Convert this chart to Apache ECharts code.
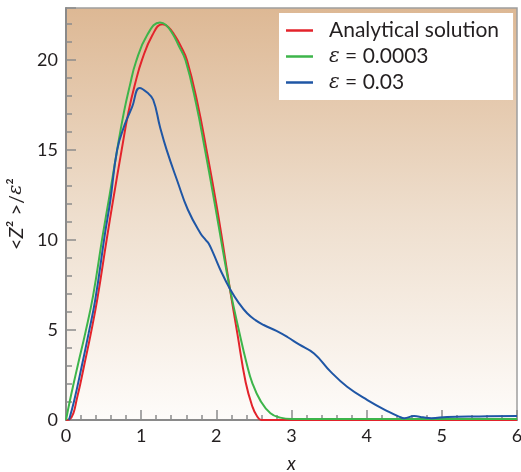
<!DOCTYPE html>
<html>
<head>
<meta charset="utf-8">
<script src="https://cdn.jsdelivr.net/npm/echarts@6/dist/echarts.min.js"></script>
<style>
  html, body { margin: 0; padding: 0; background: #fff; }
  #chart { width: 521px; height: 472px; }
</style>
</head>
<body>
<div id="chart"></div>
<script>
// === data ===
const xTicks = [0, 1, 2, 3, 4, 5, 6]
const yTicks = [0, 5, 10, 15, 20]

const analyticalData = [
  [0, 0], [0.05, 0.05], [0.1, 0.4], [0.14, 1.1], [0.19, 2.0], [0.24, 3.0], [0.33, 4.8],
  [0.42, 6.8], [0.54, 10], [0.63, 12.3], [0.74, 15], [0.83, 17.1], [0.92, 18.7], [1.01, 20],
  [1.15, 21.4], [1.28, 22], [1.36, 21.85], [1.45, 21.35], [1.53, 20.75], [1.61, 20],
  [1.75, 17.6], [1.87, 15], [2.0, 12], [2.09, 9.7], [2.18, 7.3], [2.28, 4.8], [2.39, 2.1],
  [2.48, 0.74], [2.54, 0.22], [2.6, 0], [3, 0], [6, 0],
]
const eps0003Data = [
  [0, 0], [0.053, 1.1], [0.1, 2.0], [0.16, 3.1], [0.26, 4.9], [0.36, 6.9], [0.49, 10.3],
  [0.58, 12.5], [0.68, 15], [0.77, 17.1], [0.85, 18.6], [0.93, 19.9], [1.08, 21.4], [1.25, 22.1],
  [1.33, 21.95], [1.42, 21.45], [1.5, 20.8], [1.59, 20], [1.73, 17.6], [1.85, 15], [1.98, 12],
  [2.08, 9.6], [2.18, 7.3], [2.31, 4.8], [2.4, 3.2], [2.48, 2.04], [2.59, 1.05], [2.72, 0.38],
  [2.85, 0.13], [3.0, 0.05], [4, 0.05], [6, 0.05],
]
const eps03Data = [
  [0.04, 0], [0.11, 1.1], [0.21, 3.0], [0.3, 4.8], [0.39, 6.7], [0.52, 10.4], [0.59, 12.2],
  [0.68, 15], [0.78, 16.4], [0.88, 17.4], [0.98, 18.46], [1.08, 18.2], [1.16, 17.8], [1.25, 16.3],
  [1.34, 15], [1.48, 13.3], [1.62, 11.7], [1.79, 10.37], [1.86, 10.0], [1.9, 9.8], [1.96, 9.26],
  [2.07, 8.2], [2.18, 7.3], [2.3, 6.5], [2.41, 5.93], [2.52, 5.55], [2.63, 5.28], [2.8, 4.95],
  [2.95, 4.6], [3.1, 4.2], [3.3, 3.7], [3.52, 2.69], [3.74, 1.85], [4.01, 1.11], [4.29, 0.46],
  [4.43, 0.19], [4.5, 0.1], [4.63, 0.22], [4.75, 0.15], [4.86, 0.1], [5.07, 0.17], [5.5, 0.2],
  [6, 0.22],
]

const seriesNames = ['Analytical solution', 'ε = 0.0003', 'ε = 0.03']
const seriesColors = ['#e3232b', '#3db54a', '#1f56a5']

const font = 'Lato, "Noto Sans", sans-serif'
const textColor = '#231f20'
const tickColor = '#8c8c8c'

const chart = echarts.init(document.getElementById('chart'))

const bg = new echarts.graphic.LinearGradient(0, 0, 0, 1, [
  { offset: 0, color: '#ddb894' },
  { offset: 0.5, color: '#eedecd' },
  { offset: 1, color: '#fefcfa' },
])

function makeLine(name, data, color) {
  return {
    name,
    type: 'line',
    data,
    symbol: 'none',
    smooth: 0.45,
    lineStyle: { width: 2, color },
    itemStyle: { color },
  }
}

const option = {
  backgroundColor: '#fff',
  animation: false,
  grid: {
    left: 66, right: 4, top: 8, bottom: 52,
    containLabel: false,
    outerBoundsMode: 'none',
    show: true,
    backgroundColor: bg,
    borderColor: '#9e9e9e',
    borderWidth: 1.5,
  },
  legend: {
    data: seriesNames,
    orient: 'vertical',
    left: 279,
    top: 13,
    backgroundColor: '#fff',
    padding: [7, 14, 7, 7],
    icon: 'rect',
    itemWidth: 27,
    itemHeight: 2.5,
    itemGap: 5,
    textStyle: {
      fontFamily: font,
      fontSize: 21,
      lineHeight: 20,
      color: textColor,
      padding: [0, 0, 0, 11],
      rich: {
        i: { fontFamily: '"DejaVu Serif", serif', fontStyle: 'italic', fontSize: 20, color: textColor },
      },
    },
    formatter: (name) => name.startsWith('ε') ? '{i|ε}' + name.slice(1) : name,
  },
  xAxis: {
    type: 'value',
    min: xTicks[0],
    max: xTicks[xTicks.length - 1],
    interval: 1,
    name: 'x',
    nameLocation: 'middle',
    nameGap: 34,
    nameTextStyle: { fontFamily: font, fontSize: 19, fontStyle: 'italic', color: textColor },
    axisLine: { show: true, lineStyle: { color: '#8a8a8a', width: 2 } },
    axisTick: { show: true, inside: true, length: 10, lineStyle: { color: tickColor, width: 1.5 } },
    minorTick: { show: true, splitNumber: 5, length: 5, lineStyle: { color: tickColor, width: 1.5 } },
    splitLine: { show: false },
    axisLabel: { fontFamily: font, fontSize: 18, color: textColor, margin: 7 },
  },
  yAxis: {
    type: 'value',
    min: 0,
    max: 22.9,
    interval: 5,
    name: '{a|<}{i|Z}{a|² >/}{e|ε}{a|²}',
    nameLocation: 'middle',
    nameGap: 27,
    nameTextStyle: {
      rich: {
        a: { fontFamily: font, fontSize: 20, color: textColor },
        i: { fontFamily: font, fontSize: 20, fontStyle: 'italic', color: textColor },
        e: { fontFamily: '"DejaVu Serif", serif', fontSize: 19, fontStyle: 'italic', color: textColor },
      },
    },
    axisLine: { show: true, lineStyle: { color: '#8a8a8a', width: 2 } },
    axisTick: { show: true, inside: true, length: 10, lineStyle: { color: tickColor, width: 1.5 } },
    minorTick: { show: true, splitNumber: 5, length: 6, lineStyle: { color: tickColor, width: 1.5 } },
    splitLine: { show: false },
    axisLabel: {
      fontFamily: font, fontSize: 18, color: textColor, margin: 8,
      formatter: (v) => yTicks.includes(v) ? String(v) : '',
    },
  },
  series: [
    makeLine(seriesNames[0], analyticalData, seriesColors[0]),
    makeLine(seriesNames[1], eps0003Data, seriesColors[1]),
    makeLine(seriesNames[2], eps03Data, seriesColors[2]),
  ],
}

chart.setOption(option)
</script>
</body>
</html>
